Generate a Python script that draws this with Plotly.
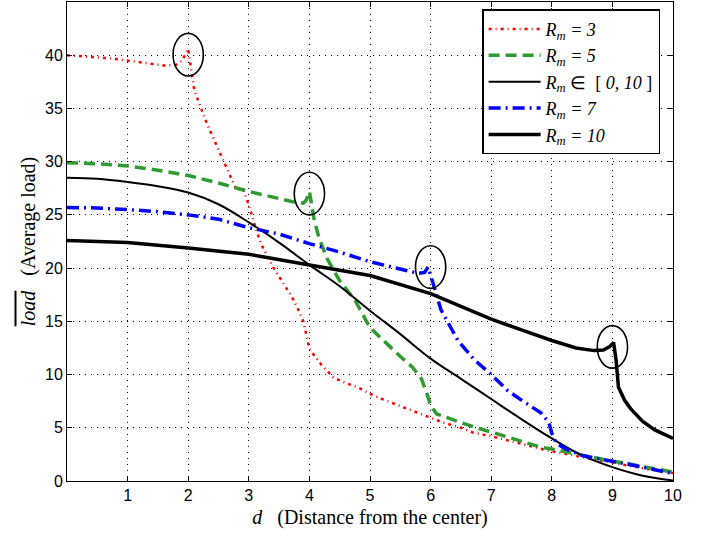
import plotly.graph_objects as go

# ---------------- data ----------------
d_r3 = [0, 0.2, 0.4, 0.6, 0.8, 1.0, 1.2, 1.4, 1.6, 1.7, 1.8, 1.9, 2.0, 2.1, 2.2, 2.3, 2.4, 2.5,
        2.6, 2.7, 2.8, 2.9, 3.0, 3.1, 3.2, 3.4, 3.5, 3.6, 3.7, 3.8, 3.9, 4.0, 4.1, 4.2, 4.4,
        4.6, 4.8, 5.0, 5.2, 5.5, 5.7, 6.0, 6.2, 6.5, 6.7, 7.0, 7.3, 7.5, 7.8, 8.0, 8.5, 9.0,
        9.2, 9.5, 10.0]
load_r3 = [40.0, 39.93, 39.87, 39.75, 39.65, 39.5, 39.3, 39.15, 39.03, 39.06, 39.1, 39.5, 40.6,
           36.7, 35.1, 33.7, 32.4, 31.1, 29.9, 28.5, 27.3, 27.5, 25.9, 24.0, 22.3, 20.1, 19.2,
           18.4, 17.4, 16.3, 15.0, 12.4, 11.6, 10.9, 9.7, 9.2, 8.8, 8.2, 7.7, 7.0, 6.6, 5.95,
           5.5, 5.0, 4.55, 4.2, 3.8, 3.5, 3.05, 2.8, 2.25, 1.7, 1.5, 1.2, 0.75]

d_r5 = [0, 0.5, 1.0, 1.5, 2.0, 2.5, 3.0, 3.3, 3.5, 3.75, 3.9, 3.95, 4.0, 4.08, 4.16, 4.3, 4.5,
        4.75, 5.0, 5.25, 5.5, 5.7, 5.85, 5.95, 6.0, 6.1, 6.3, 6.7, 7.0, 7.3, 7.8, 8.0, 8.5,
        9.0, 9.2, 9.5, 10.0]
load_r5 = [29.9, 29.8, 29.6, 29.2, 28.7, 28.0, 27.2, 26.8, 26.5, 26.2, 26.1, 26.4, 27.2, 24.5,
           22.8, 20.8, 18.8, 17.0, 14.4, 13.0, 11.7, 10.7, 9.6, 8.0, 7.1, 6.3, 5.9, 5.1, 4.6,
           4.1, 3.2, 3.0, 2.4, 1.85, 1.7, 1.35, 0.85]

d_all = [0, 0.5, 1.0, 1.5, 2.0, 2.5, 3.0, 3.5, 4.0, 4.5, 5.0, 5.5, 6.0, 6.5, 7.0, 7.5, 8.0,
         8.5, 9.0, 9.5, 10.0]
load_all = [28.5, 28.4, 28.1, 27.7, 27.1, 26.0, 24.3, 22.4, 20.3, 18.3, 16.0, 13.8, 11.5, 9.6,
            7.7, 5.8, 4.0, 2.4, 1.3, 0.5, 0.05]

d_r7 = [0, 0.5, 1.0, 1.5, 2.0, 2.5, 3.0, 3.5, 4.0, 4.5, 5.0, 5.5, 5.8, 5.9, 5.96, 6.06, 6.17,
        6.45, 6.72, 7.0, 7.27, 7.5, 7.82, 7.95, 8.0, 8.07, 8.2, 8.5, 9.0, 9.2, 9.5, 10.0]
load_r7 = [25.7, 25.65, 25.5, 25.3, 25.0, 24.6, 23.8, 23.2, 22.3, 21.5, 20.6, 19.9, 19.5, 19.6,
           20.1, 18.2, 16.1, 13.2, 11.4, 10.0, 8.5, 7.6, 6.4, 5.5, 4.5, 3.6, 3.1, 2.4, 1.85,
           1.7, 1.3, 0.7]

d_r10 = [0, 1.0, 2.0, 3.0, 4.0, 5.0, 6.0, 7.0, 7.5, 8.0, 8.4, 8.7, 8.85, 8.95, 9.02, 9.06, 9.1,
         9.2, 9.3, 9.5, 9.7, 10.0]
load_r10 = [22.6, 22.4, 21.9, 21.3, 20.3, 19.3, 17.6, 15.2, 14.2, 13.2, 12.5, 12.25, 12.3, 12.6,
            13.0, 11.4, 8.8, 7.6, 6.8, 5.6, 4.8, 4.0]

# highlighted points (ellipse centres): d, load
circle_d = [2.0, 4.0, 6.0, 9.0]
circle_load = [40.05, 27.0, 20.1, 12.6]
circle_rx = 0.25
circle_ry = 2.0

x_ticks = [1, 2, 3, 4, 5, 6, 7, 8, 9, 10]
y_ticks = [0, 5, 10, 15, 20, 25, 30, 35, 40]

series_names = [
    "<i>R<sub>m</sub> = 3</i>",
    "<i>R<sub>m</sub> = 5</i>",
    "<i>R<sub>m</sub></i> ∈  [ <i>0, 10</i> ]",
    "<i>R<sub>m</sub> = 7</i>",
    "<i>R<sub>m</sub> = 10</i>",
]

SERIF = "Liberation Serif"
SANS = "Liberation Sans"

# ---------------- figure ----------------
fig = go.Figure()
fig.add_trace(go.Scatter(x=d_r3, y=load_r3, mode="lines", name=series_names[0],
                         line=dict(color="#ff0000", width=2.5, dash="3px,4px,1px,4px")))
fig.add_trace(go.Scatter(x=d_r5, y=load_r5, mode="lines", name=series_names[1],
                         line=dict(color="#2f9a2f", width=3.5, dash="11px,6px")))
fig.add_trace(go.Scatter(x=d_all, y=load_all, mode="lines", name=series_names[2],
                         line=dict(color="black", width=2, shape="spline")))
fig.add_trace(go.Scatter(x=d_r7, y=load_r7, mode="lines", name=series_names[3],
                         line=dict(color="#0000ff", width=3.5, dash="12px,5px,2px,5px")))
fig.add_trace(go.Scatter(x=d_r10, y=load_r10, mode="lines", name=series_names[4],
                         line=dict(color="black", width=3.5)))

for cx, cy in zip(circle_d, circle_load):
    fig.add_shape(type="circle", xref="x", yref="y",
                  x0=cx - circle_rx, x1=cx + circle_rx,
                  y0=cy - circle_ry, y1=cy + circle_ry,
                  line=dict(color="black", width=1.6))

axis_common = dict(
    showline=True, linecolor="black", linewidth=1, mirror="allticks",
    ticks="inside", ticklen=5, tickcolor="black",
    showgrid=True, gridcolor="black", gridwidth=1, griddash="1px,5px",
    zeroline=False,
    tickfont=dict(family=SANS, size=16, color="black"),
)

fig.update_xaxes(range=[0, 10], tickmode="array", tickvals=x_ticks,
                 title=dict(text="<i>d</i>   (Distance from the center)",
                            font=dict(family=SERIF, size=20, color="black"),
                            standoff=6),
                 **axis_common)
fig.update_yaxes(range=[0, 45], tickmode="array", tickvals=y_ticks,
                 title=dict(text="<i><span style='text-decoration:overline'>load</span></i>   (Average load)",
                            font=dict(family=SERIF, size=20, color="black"),
                            standoff=4),
                 **axis_common)

fig.update_layout(
    width=710, height=537,
    margin=dict(l=67, r=37, t=2, b=56),
    plot_bgcolor="white", paper_bgcolor="white",
    legend=dict(x=0.685, y=0.985, xanchor="left", yanchor="top",
                bgcolor="white", bordercolor="black", borderwidth=1.5,
                font=dict(family=SERIF, size=18, color="black"),
                itemwidth=52, tracegroupgap=0),
    showlegend=True,
)

fig.write_html("out.html", config={"displayModeBar": False},
               post_script="document.body.style.margin='0';document.body.style.padding='0';")
